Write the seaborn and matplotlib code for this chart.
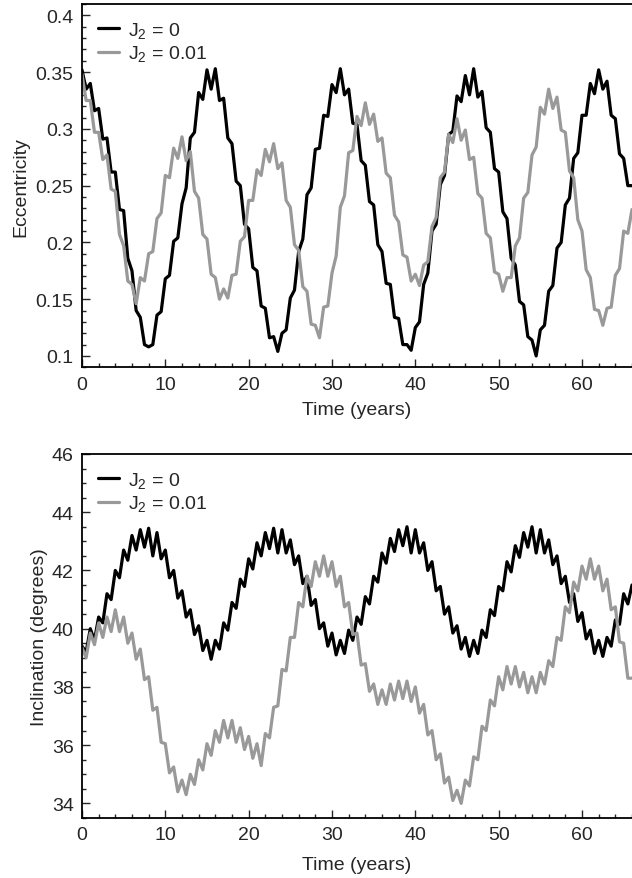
import matplotlib
matplotlib.use("Agg")
import matplotlib.pyplot as plt
import numpy as np
import pandas as pd
import seaborn as sns
from matplotlib.ticker import MultipleLocator, FuncFormatter

# sampling grid (years), one reading every half year
time_years = np.arange(133) * 0.5

case_labels = [r"J$_{\mathregular{2}}$ = 0", r"J$_{\mathregular{2}}$ = 0.01"]
case_colors = ["#000000", "#999999"]

ecc_j2_0 = [
    0.352, 0.335, 0.340, 0.316, 0.318, 0.291, 0.292, 0.262, 0.262, 0.229, 0.228, 0.186, 0.175, 0.140, 0.134, 0.110, 0.108, 0.110, 0.136, 0.139,
    0.168, 0.171, 0.201, 0.204, 0.234, 0.248, 0.292, 0.297, 0.332, 0.326, 0.352, 0.335, 0.353, 0.325, 0.327, 0.292, 0.287, 0.254, 0.250, 0.216,
    0.212, 0.178, 0.175, 0.144, 0.142, 0.116, 0.117, 0.104, 0.120, 0.123, 0.151, 0.158, 0.192, 0.203, 0.242, 0.248, 0.282, 0.283, 0.312, 0.311,
    0.339, 0.332, 0.353, 0.330, 0.335, 0.305, 0.304, 0.272, 0.268, 0.236, 0.233, 0.198, 0.192, 0.164, 0.163, 0.134, 0.133, 0.110, 0.110, 0.105,
    0.125, 0.130, 0.163, 0.173, 0.210, 0.216, 0.251, 0.259, 0.295, 0.298, 0.329, 0.324, 0.347, 0.330, 0.353, 0.328, 0.333, 0.301, 0.297, 0.265,
    0.262, 0.227, 0.221, 0.186, 0.180, 0.148, 0.145, 0.117, 0.114, 0.100, 0.123, 0.127, 0.157, 0.162, 0.195, 0.200, 0.233, 0.239, 0.274, 0.279,
    0.312, 0.312, 0.340, 0.331, 0.352, 0.335, 0.342, 0.312, 0.309, 0.278, 0.274, 0.250, 0.250,
]
ecc_j2_001 = [
    0.348, 0.325, 0.325, 0.297, 0.297, 0.273, 0.277, 0.247, 0.245, 0.207, 0.197, 0.166, 0.163, 0.146, 0.169, 0.166, 0.190, 0.192, 0.221, 0.226,
    0.259, 0.257, 0.283, 0.274, 0.293, 0.272, 0.280, 0.245, 0.239, 0.207, 0.203, 0.172, 0.169, 0.150, 0.159, 0.151, 0.171, 0.172, 0.201, 0.205,
    0.237, 0.237, 0.264, 0.259, 0.282, 0.271, 0.287, 0.265, 0.270, 0.237, 0.231, 0.198, 0.193, 0.161, 0.157, 0.128, 0.127, 0.116, 0.143, 0.144,
    0.173, 0.188, 0.231, 0.241, 0.279, 0.281, 0.311, 0.303, 0.323, 0.304, 0.313, 0.289, 0.292, 0.261, 0.257, 0.224, 0.218, 0.189, 0.187, 0.166,
    0.172, 0.162, 0.180, 0.183, 0.214, 0.222, 0.257, 0.262, 0.295, 0.288, 0.309, 0.290, 0.299, 0.273, 0.275, 0.243, 0.239, 0.208, 0.204, 0.174,
    0.172, 0.157, 0.169, 0.169, 0.197, 0.204, 0.239, 0.244, 0.277, 0.284, 0.319, 0.313, 0.335, 0.318, 0.328, 0.299, 0.297, 0.263, 0.257, 0.220,
    0.210, 0.176, 0.169, 0.141, 0.140, 0.127, 0.142, 0.143, 0.171, 0.177, 0.210, 0.208, 0.229,
]
inc_j2_0 = [
    39.4, 39.2, 40.0, 39.6, 40.4, 40.2, 41.2, 41.0, 42.0, 41.75, 42.7, 42.35, 43.2, 42.7, 43.4, 42.8, 43.45, 42.5, 43.3, 42.4,
    42.7, 41.75, 42.0, 41.05, 41.3, 40.4, 40.65, 39.8, 40.1, 39.25, 39.6, 38.95, 39.6, 39.3, 40.2, 39.95, 40.9, 40.7, 41.7, 41.45,
    42.4, 42.05, 42.95, 42.5, 43.3, 42.75, 43.45, 42.6, 43.4, 42.6, 43.05, 42.2, 42.5, 41.55, 41.8, 40.8, 41.0, 40.0, 40.2, 39.4,
    39.85, 39.1, 39.6, 39.15, 39.95, 39.6, 40.4, 40.15, 41.1, 40.85, 41.8, 41.6, 42.6, 42.25, 43.1, 42.65, 43.4, 42.85, 43.5, 42.6,
    43.4, 42.6, 42.95, 42.0, 42.3, 41.3, 41.45, 40.5, 40.75, 39.85, 40.1, 39.3, 39.7, 39.05, 39.6, 39.15, 39.95, 39.7, 40.65, 40.45,
    41.45, 41.3, 42.3, 41.95, 42.85, 42.45, 43.3, 42.8, 43.5, 42.6, 43.4, 42.6, 43.05, 42.2, 42.5, 41.55, 41.8, 40.9, 41.2, 40.25,
    40.55, 39.65, 39.95, 39.15, 39.6, 39.05, 39.7, 39.4, 40.3, 40.15, 41.2, 40.85, 41.5,
]
inc_j2_001 = [
    39.35, 39.0, 39.85, 39.45, 40.2, 39.7, 40.4, 39.9, 40.65, 39.9, 40.4, 39.5, 39.85, 38.95, 39.3, 38.25, 38.35, 37.2, 37.3, 36.1,
    36.05, 35.05, 35.25, 34.4, 34.8, 34.3, 35.0, 34.65, 35.5, 35.15, 36.05, 35.65, 36.5, 36.1, 36.85, 36.25, 36.85, 36.1, 36.6, 35.85,
    36.3, 35.55, 36.05, 35.3, 36.4, 36.25, 37.3, 37.35, 38.6, 38.55, 39.7, 39.7, 40.9, 40.75, 41.8, 41.45, 42.3, 41.8, 42.5, 41.8,
    42.3, 41.45, 41.8, 40.75, 40.9, 39.8, 39.85, 38.75, 38.8, 37.85, 38.1, 37.4, 37.9, 37.4, 38.1, 37.55, 38.2, 37.6, 38.2, 37.5,
    38.0, 37.1, 37.4, 36.35, 36.5, 35.5, 35.7, 34.7, 34.9, 34.1, 34.45, 34.0, 34.8, 34.6, 35.6, 35.5, 36.65, 36.5, 37.55, 37.35,
    38.35, 37.9, 38.7, 38.1, 38.7, 38.0, 38.5, 37.8, 38.35, 37.8, 38.5, 38.1, 38.9, 38.7, 39.7, 39.6, 40.75, 40.55, 41.6, 41.3,
    42.15, 41.7, 42.4, 41.7, 42.15, 41.3, 41.7, 40.65, 40.75, 39.55, 39.5, 38.3, 38.3,
]


def long_frame(series_a, series_b):
    return pd.concat(
        [
            pd.DataFrame({"time": time_years, "value": series_a, "case": case_labels[0]}),
            pd.DataFrame({"time": time_years, "value": series_b, "case": case_labels[1]}),
        ],
        ignore_index=True,
    )


def style_axis(ax, ylim, major, minor, fmt):
    ax.set_xlim(0, 66)
    ax.set_ylim(*ylim)
    ax.xaxis.set_major_locator(MultipleLocator(10))
    ax.xaxis.set_minor_locator(MultipleLocator(2))
    ax.yaxis.set_major_locator(MultipleLocator(major))
    ax.yaxis.set_minor_locator(MultipleLocator(minor))
    ax.yaxis.set_major_formatter(FuncFormatter(fmt))
    ax.tick_params(which="both", direction="in", top=False, right=False, width=1.0, labelsize=14)
    ax.tick_params(which="major", length=6)
    ax.tick_params(which="minor", length=3)
    ax.tick_params(axis="y", pad=6)
    ax.tick_params(axis="x", pad=6)
    ax.spines["right"].set_visible(False)
    for side in ("left", "bottom", "top"):
        ax.spines[side].set_linewidth(1.3)
        ax.spines[side].set_color("black")
    ax.grid(False)
    ax.legend(
        handles=ax.lines[:2],
        labels=case_labels,
        loc="upper left",
        frameon=False,
        fontsize=14,
        handlelength=1.1,
        handletextpad=0.45,
        labelspacing=0.2,
        borderaxespad=0.4,
    )


sns.set_style("ticks")
plt.rcParams["font.family"] = ["Liberation Sans", "DejaVu Sans"]
plt.rcParams["mathtext.fontset"] = "custom"
plt.rcParams["mathtext.rm"] = "Liberation Sans"
plt.rcParams["mathtext.it"] = "Liberation Sans:italic"

fig = plt.figure(figsize=(6.32, 8.79), dpi=100)
ax_ecc = fig.add_axes([0.1297, 0.581, 0.8703, 0.4133])
ax_inc = fig.add_axes([0.1297, 0.0683, 0.8703, 0.4141])

sns.lineplot(
    data=long_frame(ecc_j2_0, ecc_j2_001), x="time", y="value", hue="case",
    hue_order=case_labels, palette=case_colors, estimator=None, linewidth=2.3, legend=False, ax=ax_ecc,
)
sns.lineplot(
    data=long_frame(inc_j2_0, inc_j2_001), x="time", y="value", hue="case",
    hue_order=case_labels, palette=case_colors, estimator=None, linewidth=2.3, legend=False, ax=ax_inc,
)

style_axis(ax_ecc, (0.09, 0.41), 0.05, 0.01, lambda v, p: f"{v:g}")
style_axis(ax_inc, (33.5, 46), 2, 0.5, lambda v, p: f"{v:.0f}")

ax_ecc.set_xlabel("Time (years)", fontsize=14, labelpad=6)
ax_ecc.set_ylabel("Eccentricity", fontsize=14)
ax_ecc.yaxis.set_label_coords(-0.095, 0.5)
ax_inc.set_xlabel("Time (years)", fontsize=14, labelpad=9)
ax_inc.set_ylabel("Inclination (degrees)", fontsize=14)
ax_inc.yaxis.set_label_coords(-0.062, 0.5)

fig.savefig("out.png", dpi=100)
plt.close(fig)
